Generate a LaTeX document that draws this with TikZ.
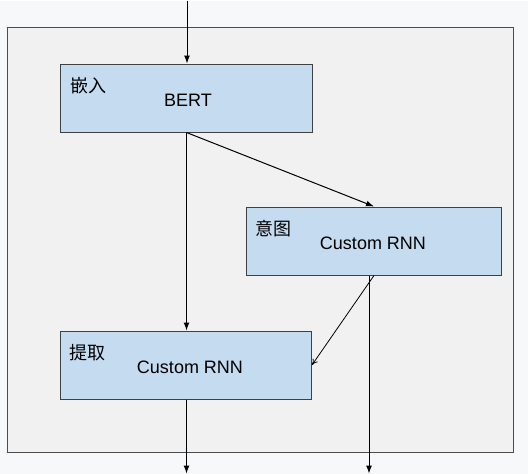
\documentclass[tikz,border=0pt]{standalone}
\usepackage{fontspec}
\setmainfont{Liberation Sans}
\newfontfamily\cjk{Noto Sans CJK SC}
\usetikzlibrary{arrows.meta}
\definecolor{pagebg}{HTML}{F7F8FA}
\definecolor{framebg}{HTML}{F1F1F1}
\definecolor{boxblue}{HTML}{C5DBF0}

\begin{document}
\begin{tikzpicture}[x=1pt, y=-1pt,
    every node/.style={font=\fontsize{18}{21}\selectfont},
    layer/.style={draw=black!75, line width=1pt, fill=boxblue, inner sep=0pt,
      minimum height=68pt, anchor=north west},
    tag/.style={anchor=west, inner sep=0pt, font=\cjk\fontsize{18}{21}\selectfont},
    flow/.style={line width=1pt, -{Latex[length=8pt,width=6pt]}},
    thin flow/.style={line width=0.8pt, -{To[length=6pt,width=6pt]}}]
  % page and frame
  \fill[pagebg] (0,0) rectangle (528,473);
  \draw[black!70, line width=1pt, fill=framebg] (7,27) rectangle (513,452);

  % layers
  \node[layer, minimum width=252pt] (bert) at (60,63) {};
  \node[layer, minimum width=255pt] (intent) at (246,206) {};
  \node[layer, minimum width=251pt] (extract) at (60,330) {};

  \node at (188,100) (bertText) {BERT};
  \node at (373,243) (intentText) {Custom RNN};
  \node at (190,367) (extractText) {Custom RNN};

  \node[tag] at (70,85) (bertTag) {嵌入};
  \node[tag] at (255,228) (intentTag) {意图};
  \node[tag] at (69,352) (extractTag) {提取};

  % loose ends
  \coordinate (input) at (187,0);
  \coordinate (extractOut) at (186,473);
  \coordinate (intentOut) at (369,473);

  % connectors
  \draw[flow] (input) -- (input |- bert.north);
  \draw[flow] (bert.south) -- (intent.north);
  \draw[flow] (bert.south) -- (bert.south |- extract.north);
  \draw[thin flow] (intent.south) -- (extract.east);
  \draw[flow] (intentOut |- intent.south) -- (intentOut);
  \draw[flow] (bert.south |- extract.south) -- (bert.south |- extractOut);
\end{tikzpicture}
\end{document}
